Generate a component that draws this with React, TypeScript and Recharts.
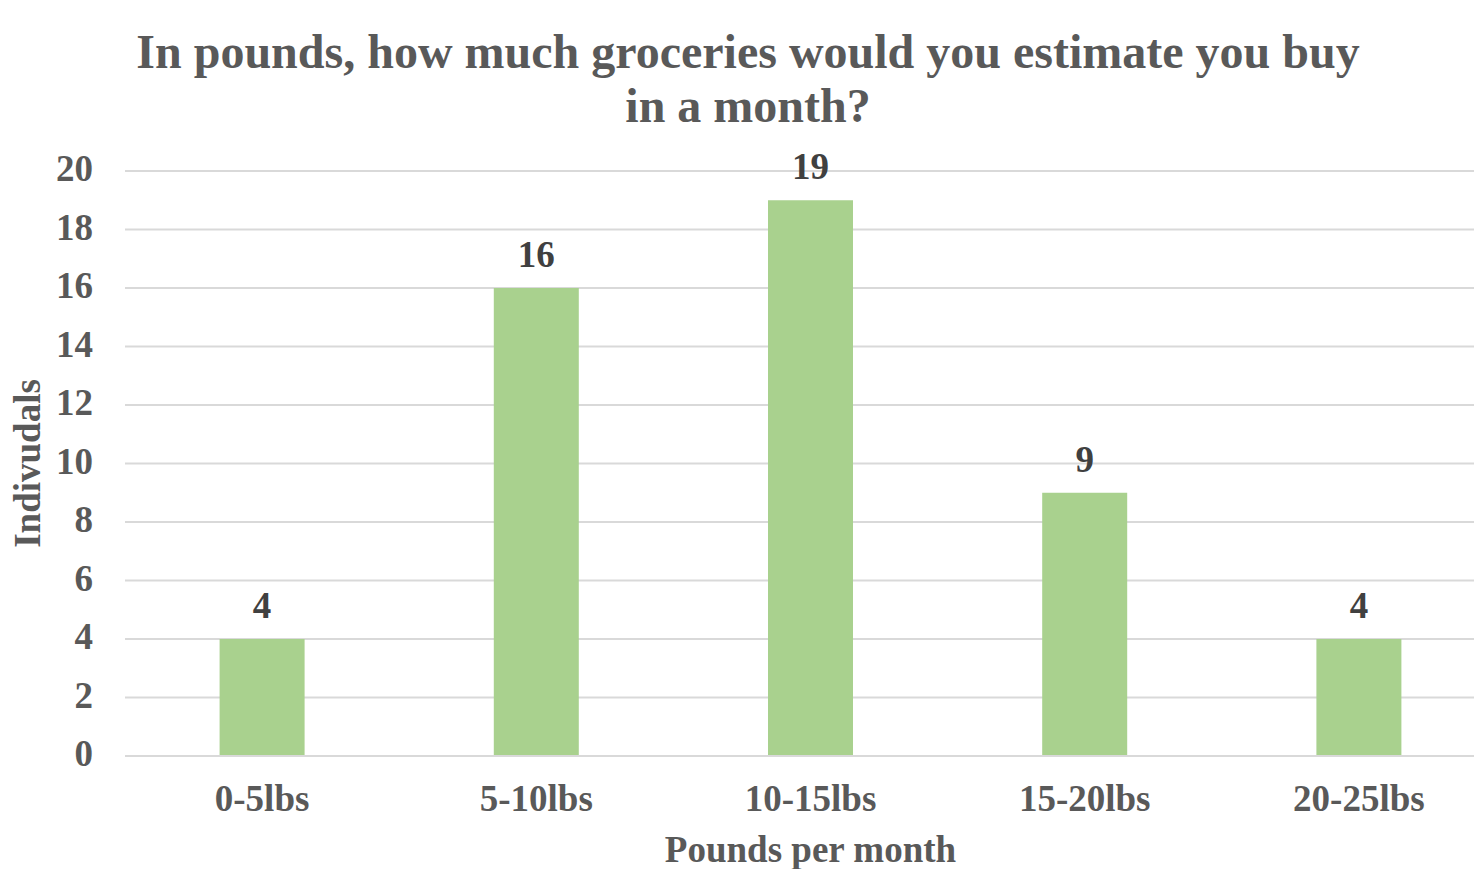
import React from "react";
import { BarChart, Bar, XAxis, YAxis, CartesianGrid, LabelList, Label } from "recharts";

const categories = ["0-5lbs", "5-10lbs", "10-15lbs", "15-20lbs", "20-25lbs"];
const individuals = [4, 16, 19, 9, 4];
const yTicks = [0, 2, 4, 6, 8, 10, 12, 14, 16, 18, 20];
const titleLines = ["In pounds, how much groceries would you estimate you buy", "in a month?"];
const xAxisTitle = "Pounds per month";
const yAxisTitle = "Indivudals";

const data = categories.map((c, i) => ({ name: c, value: individuals[i] }));

const FONT = "'Liberation Serif', 'Times New Roman', serif";
const GRAY = "#595959";

export default function App() {
  const W = 1496;
  const H = 869;
  return (
    <div style={{ position: "fixed", left: 0, top: 0, width: 1474, height: 869, overflow: "hidden", background: "#fff" }}>
      <BarChart
        width={W}
        height={H}
        data={data}
        margin={{ top: 171, right: 0, bottom: 0, left: 0 }}
        barCategoryGap="34.5%"
      >
        <text x={W / 2} y={68} textAnchor="middle" fontFamily={FONT} fontWeight="bold" fontSize={48} fill={GRAY}>
          {titleLines[0]}
        </text>
        <text x={W / 2} y={122} textAnchor="middle" fontFamily={FONT} fontWeight="bold" fontSize={48} fill={GRAY}>
          {titleLines[1]}
        </text>
        <CartesianGrid vertical={false} stroke="#D9D9D9" strokeWidth={2} />
        <XAxis
          dataKey="name"
          height={113}
          axisLine={{ stroke: "#D9D9D9", strokeWidth: 2 }}
          tickLine={false}
          tickSize={0}
          tickMargin={29}
          tick={{ fontFamily: FONT, fontWeight: "bold", fontSize: 37, fill: GRAY }}
        >
          <Label
            content={({ viewBox }: any) => (
              <text
                x={viewBox.x + viewBox.width / 2}
                y={862}
                textAnchor="middle"
                fontFamily={FONT}
                fontWeight="bold"
                fontSize={37}
                fill={GRAY}
              >
                {xAxisTitle}
              </text>
            )}
          />
        </XAxis>
        <YAxis
          width={125}
          domain={[0, 20]}
          ticks={yTicks}
          interval={0}
          axisLine={false}
          tickLine={false}
          tickSize={0}
          tickMargin={32}
          tick={{ fontFamily: FONT, fontWeight: "bold", fontSize: 37, fill: GRAY, dy: -3 }}
        >
          <Label
            content={({ viewBox }: any) => {
              const cy = viewBox.y + viewBox.height / 2;
              return (
                <text
                  x={40}
                  y={cy}
                  transform={`rotate(-90, 40, ${cy})`}
                  textAnchor="middle"
                  fontFamily={FONT}
                  fontWeight="bold"
                  fontSize={37}
                  fill={GRAY}
                >
                  {yAxisTitle}
                </text>
              );
            }}
          />
        </YAxis>
        <Bar dataKey="value" fill="#A9D18E" isAnimationActive={false}>
          <LabelList
            dataKey="value"
            position="top"
            offset={21}
            fontFamily={FONT}
            fontWeight="bold"
            fontSize={37}
            fill="#404040"
          />
        </Bar>
      </BarChart>
    </div>
  );
}
